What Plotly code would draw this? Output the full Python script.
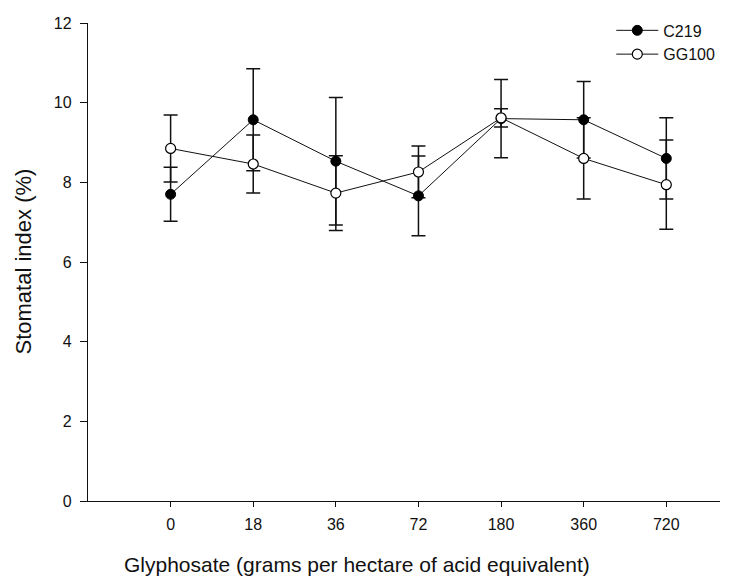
import plotly.graph_objects as go

# Glyphosate doses (g a.e. per hectare), plotted as evenly spaced categories
doses = ["0", "18", "36", "72", "180", "360", "720"]
positions = [1, 2, 3, 4, 5, 6, 7]

# Stomatal index (%) means and error bar half-widths
c219_mean = [7.70, 9.57, 8.53, 7.66, 9.60, 9.57, 8.60]
c219_err = [0.68, 1.28, 1.60, 1.00, 0.98, 0.96, 1.02]
gg100_mean = [8.85, 8.46, 7.73, 8.26, 9.62, 8.60, 7.94]
gg100_err = [0.84, 0.73, 0.94, 0.65, 0.23, 1.02, 1.12]

FONT = "Liberation Sans, Arial, sans-serif"
INK = "#111111"

fig = go.Figure()

# Error bars drawn underneath all lines and markers
for mean, err in ((c219_mean, c219_err), (gg100_mean, gg100_err)):
    fig.add_trace(go.Scatter(
        x=positions, y=mean, mode="markers",
        marker=dict(size=1, color="rgba(0,0,0,0)"),
        error_y=dict(type="data", array=err, visible=True,
                     color=INK, thickness=1.5, width=7),
        showlegend=False, hoverinfo="skip",
    ))

fig.add_trace(go.Scatter(
    x=positions, y=c219_mean, mode="lines+markers", name="C219",
    line=dict(color=INK, width=1),
    marker=dict(symbol="circle", size=10, color="black",
                line=dict(color="black", width=1)),
))
fig.add_trace(go.Scatter(
    x=positions, y=gg100_mean, mode="lines+markers", name="GG100",
    line=dict(color=INK, width=1),
    marker=dict(symbol="circle", size=10, color="white",
                line=dict(color="black", width=1.2)),
))

fig.update_layout(
    width=729, height=578,
    margin=dict(l=88, r=9, t=23, b=77),
    paper_bgcolor="white", plot_bgcolor="white",
    font=dict(family=FONT, color=INK, size=16),
    showlegend=True,
    legend=dict(x=0.828, y=1.02, xanchor="left", yanchor="top",
                bgcolor="rgba(0,0,0,0)", font=dict(size=16),
                itemwidth=42, tracegroupgap=0),
    xaxis=dict(
        range=[0, 7.65], tickmode="array", tickvals=positions, ticktext=doses,
        showline=True, linecolor=INK, linewidth=1.3, mirror=False,
        ticks="outside", ticklen=5, tickcolor=INK, tickwidth=1,
        showgrid=False, zeroline=False, tickfont=dict(size=16),
        ticklabelstandoff=4,
    ),
    yaxis=dict(
        range=[0, 12], dtick=2, tick0=0,
        showline=True, linecolor=INK, linewidth=1.3, mirror=False,
        ticks="outside", ticklen=7, tickcolor=INK, tickwidth=1,
        showgrid=False, zeroline=False, tickfont=dict(size=16),
        ticklabelstandoff=5,
    ),
    annotations=[
        dict(text="Glyphosate (grams per hectare of acid equivalent)",
             xref="paper", yref="paper", x=0.4256, y=0, yshift=-63,
             xanchor="center", yanchor="middle", showarrow=False,
             font=dict(size=21)),
        dict(text="Stomatal index (%)", textangle=-90,
             xref="paper", yref="paper", x=0, y=0.5, xshift=-65.5,
             xanchor="center", yanchor="middle", showarrow=False,
             font=dict(size=22)),
    ],
)

fig.write_html("out.html")
